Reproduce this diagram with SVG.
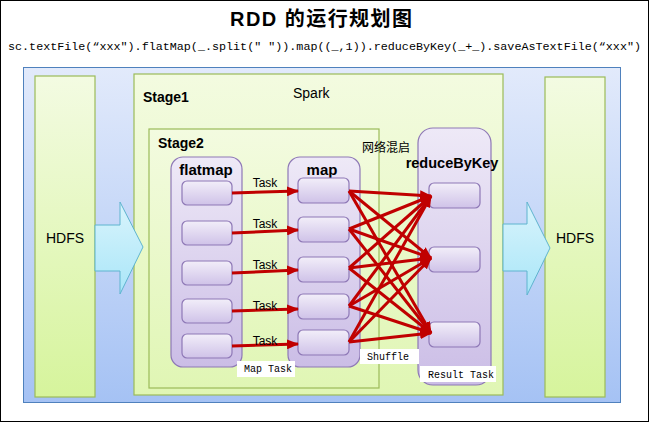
<svg xmlns="http://www.w3.org/2000/svg" width="649" height="422" viewBox="0 0 649 422">
<defs>
<linearGradient id="gBlue" x1="0" y1="0" x2="0" y2="1"><stop offset="0" stop-color="#e2eafb"/><stop offset="1" stop-color="#a5c2f4"/></linearGradient>
<linearGradient id="gGreen" x1="0" y1="0" x2="0" y2="1"><stop offset="0" stop-color="#f3fbe2"/><stop offset="1" stop-color="#d6f49c"/></linearGradient>
<linearGradient id="gStage" x1="0" y1="0" x2="0" y2="1"><stop offset="0" stop-color="#f3fbe0"/><stop offset="1" stop-color="#e0f6b4"/></linearGradient>
<linearGradient id="gCol" x1="0" y1="0" x2="0" y2="1"><stop offset="0" stop-color="#eee9f7"/><stop offset="1" stop-color="#cbbde6"/></linearGradient>
<linearGradient id="gBox" x1="0" y1="0" x2="0" y2="1"><stop offset="0" stop-color="#f2eef9"/><stop offset="1" stop-color="#cfc2e8"/></linearGradient>
<linearGradient id="gArrow" x1="0" y1="0" x2="0" y2="1"><stop offset="0" stop-color="#d9f4fc"/><stop offset="1" stop-color="#a9e6f8"/></linearGradient>
<marker id="ah" markerUnits="userSpaceOnUse" markerWidth="12" markerHeight="10" refX="11" refY="5" orient="auto"><path d="M0,0 L12,5 L0,10 Z" fill="#c00000"/></marker>
<style>
.hdfs{fill:url(#gGreen);stroke:#9bbb59;stroke-width:1.2}
.stage{fill:url(#gStage);stroke:#9bbb59;stroke-width:1.2}
.col{fill:url(#gCol);stroke:#8e78b6;stroke-width:1.2}
.box{fill:url(#gBox);stroke:#8e78b6;stroke-width:1.2}
.bigarrow{fill:url(#gArrow);stroke:#5fb4cf;stroke-width:1}
.conn line{stroke:#c00000;stroke-width:3;marker-end:url(#ah)}
.sans{font-family:"Liberation Sans","Open Sans",sans-serif;fill:#000}
.bold{font-family:"Liberation Sans","Open Sans",sans-serif;font-weight:bold;fill:#000}
.mono{font-family:"Liberation Mono","DejaVu Sans Mono",monospace;fill:#000}
.tag{fill:#ffffff}
</style>
</defs>
<rect x="0.5" y="0.5" width="648" height="421" fill="#ffffff" stroke="#000" stroke-width="1"/>
<text x="321" y="26" text-anchor="middle" font-size="20" class="bold" style="font-family:'Liberation Sans','Noto Sans CJK SC',sans-serif" textLength="182">RDD  的运行规划图</text>
<text x="8" y="50" font-size="11.7" class="mono" textLength="633" lengthAdjust="spacingAndGlyphs">sc.textFile(“xxx").flatMap(_.split(" ")).map((_,1)).reduceByKey(_+_).saveAsTextFile(“xxx")</text>

<g id="container"><rect x="23.5" y="67.5" width="597" height="335" fill="url(#gBlue)" stroke="#4f81bd" stroke-width="1"/></g>

<g id="hdfs-in"><rect class="hdfs" x="35" y="76" width="60" height="321"/><text x="65" y="243" text-anchor="middle" font-size="14" class="sans">HDFS</text></g>
<g id="hdfs-out"><rect class="hdfs" x="545" y="77" width="60" height="320"/><text x="575" y="243" text-anchor="middle" font-size="14" class="sans">HDFS</text></g>

<g id="stage1"><rect class="stage" x="134" y="74" width="369" height="321"/><text x="143" y="102" font-size="14" class="bold">Stage1</text><text x="293" y="98" font-size="14" class="sans">Spark</text></g>
<g id="stage2"><rect class="stage" x="149" y="129" width="230" height="259"/><text x="158" y="148" font-size="14" class="bold">Stage2</text></g>

<g id="arrow-in"><path class="bigarrow" d="M95,225 L120,225 L120,202 L143,247 L120,294 L120,271 L95,271 Z"/></g>
<g id="arrow-out"><path class="bigarrow" d="M503,224 L527,224 L527,202 L550,248 L527,295 L527,271 L503,271 Z"/></g>

<g id="flatmap">
<rect class="col" x="171" y="157" width="71" height="210" rx="12"/>
<text x="206" y="175" text-anchor="middle" font-size="15" class="bold">flatmap</text>
<rect class="box" x="182" y="181" width="50" height="24" rx="5"/>
<rect class="box" x="182" y="221" width="50" height="24" rx="5"/>
<rect class="box" x="182" y="261" width="50" height="24" rx="5"/>
<rect class="box" x="182" y="299" width="50" height="24" rx="5"/>
<rect class="box" x="182" y="334" width="50" height="24" rx="5"/>
</g>
<g id="map">
<rect class="col" x="288" y="157" width="72" height="210" rx="12"/>
<text x="322" y="175" text-anchor="middle" font-size="15" class="bold">map</text>
<rect class="box" x="298" y="178" width="51" height="25" rx="5"/>
<rect class="box" x="298" y="217" width="51" height="25" rx="5"/>
<rect class="box" x="298" y="257" width="51" height="25" rx="5"/>
<rect class="box" x="298" y="294" width="51" height="25" rx="5"/>
<rect class="box" x="298" y="330" width="51" height="25" rx="5"/>
</g>
<g id="reduceByKey">
<rect class="col" x="418" y="128" width="73" height="257" rx="15"/>
<text x="452" y="168" text-anchor="middle" font-size="14.5" class="bold">reduceByKey</text>
<rect class="box" x="429" y="183" width="51" height="25" rx="5"/>
<rect class="box" x="429" y="247" width="51" height="25" rx="5"/>
<rect class="box" x="429" y="322" width="51" height="25" rx="5"/>
</g>

<g id="connectors" class="conn">
<line x1="232" y1="193" x2="298" y2="191"/>
<line x1="232" y1="233" x2="298" y2="230"/>
<line x1="232" y1="273" x2="298" y2="270"/>
<line x1="232" y1="311" x2="298" y2="309"/>
<line x1="232" y1="346" x2="298" y2="344"/>
<line x1="349" y1="191" x2="431" y2="196"/>
<line x1="349" y1="191" x2="431" y2="258"/>
<line x1="349" y1="191" x2="431" y2="333"/>
<line x1="349" y1="229" x2="431" y2="196"/>
<line x1="349" y1="229" x2="431" y2="258"/>
<line x1="349" y1="229" x2="431" y2="333"/>
<line x1="349" y1="268" x2="431" y2="196"/>
<line x1="349" y1="268" x2="431" y2="258"/>
<line x1="349" y1="268" x2="431" y2="333"/>
<line x1="349" y1="306" x2="431" y2="196"/>
<line x1="349" y1="306" x2="431" y2="258"/>
<line x1="349" y1="306" x2="431" y2="333"/>
<line x1="349" y1="342" x2="431" y2="196"/>
<line x1="349" y1="342" x2="431" y2="258"/>
<line x1="349" y1="342" x2="431" y2="333"/>
</g>

<g id="labels">
<text x="265" y="187" text-anchor="middle" font-size="12" class="sans">Task</text>
<text x="265" y="228" text-anchor="middle" font-size="12" class="sans">Task</text>
<text x="265" y="269" text-anchor="middle" font-size="12" class="sans">Task</text>
<text x="265" y="310" text-anchor="middle" font-size="12" class="sans">Task</text>
<text x="265" y="345" text-anchor="middle" font-size="12" class="sans">Task</text>
<text x="362" y="152" font-size="12" class="sans" style="font-family:'Liberation Sans','Noto Sans CJK SC',sans-serif">网络混启</text>
<rect class="tag" x="237" y="361" width="58" height="16"/>
<text x="244" y="372" font-size="10" class="mono">Map Task</text>
<rect class="tag" x="360" y="349" width="59" height="15"/>
<text x="367" y="360" font-size="10" class="mono">Shuffle</text>
<rect class="tag" x="420" y="366" width="76" height="16"/>
<text x="428" y="378" font-size="10" class="mono">Result Task</text>
</g>
</svg>
